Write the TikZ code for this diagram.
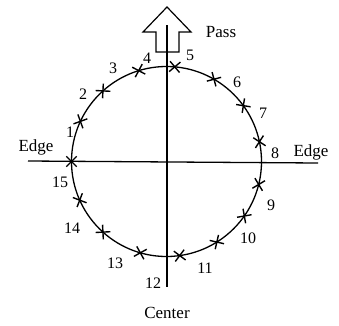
\documentclass[tikz,border=0pt]{standalone}
\usepackage{fontspec}
\setmainfont{Liberation Serif}
\usepackage{tikz}
\usetikzlibrary{shapes.misc, calc}

\begin{document}
\begin{tikzpicture}[x=1pt, y=1pt, line width=1.3pt,
    tick/.style = {draw, cross out, minimum size=9pt, inner sep=0pt, line width=1.4pt},
    num/.style = {font=\fontsize{16}{18}\selectfont, inner sep=0pt},
    word/.style = {font=\fontsize{17}{19}\selectfont, inner sep=0pt}]
            \useasboundingbox (0,0) rectangle (339,325);
            \coordinate (C) at (166.5,163.5);
            \coordinate (T) at (167,300);
            \coordinate (B) at (167,38);
            \coordinate (L) at (28,164);
            \coordinate (R) at (318,162);

            \draw (C) circle (95);
            \draw (T) -- (B);
            \draw (L) -- (R);

            % hollow arrow on top
            \draw[line width=1.2pt] (156,273) -- (156,293) -- (143,293) -- (167,318)
                -- (191,293) -- (179,293) -- (179,273) -- cycle;

            \foreach \a [count=\i] in {12,36,60,85,107,132,155,180,204,228,254,278,302,325,346}
                \node[tick, rotate=\a] (m\i) at ($(C)+(\a:95)$) {};

            \node[num] (n1) at (70,193) {1};
            \node[num] (n2) at (83,231) {2};
            \node[num] (n3) at (113,257) {3};
            \node[num] (n4) at (147,267) {4};
            \node[num] (n5) at (190,270) {5};
            \node[num] (n6) at (237,243) {6};
            \node[num] (n7) at (263,212) {7};
            \node[num] (n8) at (275,172) {8};
            \node[num] (n9) at (271,120) {9};
            \node[num] (n10) at (248,87) {10};
            \node[num] (n11) at (205,57) {11};
            \node[num] (n12) at (153,42) {12};
            \node[num] (n13) at (115,62) {13};
            \node[num] (n14) at (72,97) {14};
            \node[num] (n15) at (60,143) {15};

            \node[word] (pass) at (221,293) {Pass};
            \node[word] (center) at (167,12) {Center};
            \node[word] (edgeL) at (36,178) {Edge};
            \node[word] (edgeR) at (311,173) {Edge};
        \end{tikzpicture}
\end{document}
